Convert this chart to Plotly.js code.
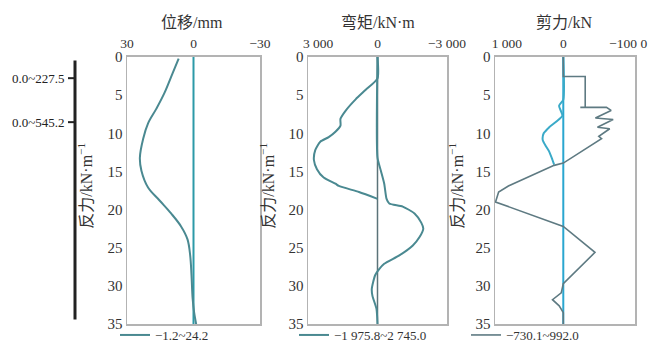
<!DOCTYPE html>
<html>
<head>
<meta charset="utf-8">
<script src="https://cdn.plot.ly/plotly-3.0.1.min.js"></script>
<style>html,body{margin:0;padding:0;background:#fff;}#chart{width:654px;height:350px;}</style>
</head>
<body>
<div id="chart"></div>
<script>
// ---- data ----
const depthTicks = [0, 5, 10, 15, 20, 25, 30, 35];

// Panel 1: displacement (mm)
const dispDepth = [0.2, 2.1, 4.7, 6.8, 8.7, 10.7, 13.2, 14.9, 17.1, 18.8, 20.5, 22.2, 23.9, 26.0, 28.6, 31.6, 33.5, 35];
const dispVal   = [6.7, 9.4, 13.1, 16.8, 20.5, 22.7, 24.2, 23.5, 20.5, 15.3, 10.1, 5.6, 2.7, 1.5, 0.9, 0.4, -0.3, -1.2];
const dispTickVals = [30, 0, -30];
const dispTickText = ['30', '0', '−30'];

// Panel 2: bending moment (kN·m)
const momDepthA = [0, 2.8, 4.3, 5.55, 7.05, 8.1, 9.0, 9.8, 10.5, 11.1, 12.2, 13.5, 14.7, 15.8, 16.6, 16.9, 17.7, 18.6];
const momValA   = [0, 0, 508, 944, 1380, 1598, 1598, 1815, 2106, 2469, 2687, 2745, 2614, 2324, 1815, 1670, 799, 0];
const momDepthB = [0, 13.2, 14.9, 16.6, 18.6, 19.2, 19.6, 20.5, 21.7, 22.5, 23.6, 24.7, 26.0, 27.1, 27.8, 28.6, 30.4, 31.3, 33.0, 35];
const momValB   = [0, 0, -145, -290, -392, -508, -1089, -1598, -1888, -1976, -1815, -1525, -944, -290, -73, 102, 247, 218, 44, 0];
const momTickVals = [3000, 0, -3000];
const momTickText = ['3 000', '0', '−3 000'];

// Panel 3: shear force (kN)
const shearDepthA = [0, 5.6, 6.4, 7.7, 9.2, 10.0, 10.9, 11.7, 12.4, 13.5, 14.1];
const shearValA   = [0, 0, 62, 14, 206, 287, 301, 254, 206, 158, 134];
const shearDepthB = [0, 2.56, 2.56, 6.6, 6.6, 6.6, 7.0, 8.0, 8.2, 9.2, 9.4, 10.4, 10.7, 13.9, 14.2, 16.9, 17.7, 19.0, 22.2, 25.6, 29.7, 30.9, 31.8, 32.6, 33.5, 35];
const shearValB   = [0, 0, -321, -321, -249, -632, -700, -470, -730, -500, -680, -520, -560, 0, 134, 804, 947, 992, 0, -464, 0, 30, 158, 60, 0, 0];
const shearTickVals = [1000, 0, -1000];
const shearTickText = ['1 000', '0', '−100 0'];

const zeroDepth = [0, 35];
const zeroVal = [0, 0];

const panelTitles = ['位移/mm', '弯矩/kN·m', '剪力/kN'];
const legendNames = ['−1.2~24.2', '−1 975.8~2 745.0', '−730.1~992.0'];
const yTitle = '反力/kN·m<sup>−1</sup>';
const barLabels = ['0.0~227.5', '0.0~545.2'];

// ---- styling ----
const W = 654, H = 350;
const px = v => v / W;
const py = v => 1 - v / H;
const FONT = '"Liberation Serif", "Noto Sans CJK SC", serif';
const curveCol = '#4a8991';
const NB = n => '\u00a0'.repeat(n);
// in the reference the edge labels sit inside the frame: pad with non-breaking spaces
const momText = [NB(6) + momTickText[0], momTickText[1], momTickText[2]];
const shearText = [NB(7) + shearTickText[0], shearTickText[1], shearTickText[2] + NB(2)];

const traces = [
  {x: zeroVal, y: zeroDepth, xaxis: 'x', yaxis: 'y', mode: 'lines', line: {color: '#2c9aa8', width: 2}, showlegend: false},
  {x: dispVal, y: dispDepth, xaxis: 'x', yaxis: 'y', mode: 'lines', line: {color: curveCol, width: 2, shape: 'spline'}, name: legendNames[0], legend: 'legend'},

  {x: zeroVal, y: zeroDepth, xaxis: 'x2', yaxis: 'y2', mode: 'lines', line: {color: '#5b7379', width: 1.5}, showlegend: false},
  {x: momValA, y: momDepthA, xaxis: 'x2', yaxis: 'y2', mode: 'lines', line: {color: curveCol, width: 2, shape: 'spline', smoothing: 0.6}, name: legendNames[1], legend: 'legend2'},
  {x: momValB, y: momDepthB, xaxis: 'x2', yaxis: 'y2', mode: 'lines', line: {color: curveCol, width: 2, shape: 'spline', smoothing: 0.6}, showlegend: false},

  {x: zeroVal, y: zeroDepth, xaxis: 'x3', yaxis: 'y3', mode: 'lines', line: {color: '#2aa6d0', width: 2}, showlegend: false},
  {x: shearValA, y: shearDepthA, xaxis: 'x3', yaxis: 'y3', mode: 'lines', line: {color: '#3aaac8', width: 2, shape: 'spline', smoothing: 0.6}, showlegend: false},
  {x: shearValB, y: shearDepthB, xaxis: 'x3', yaxis: 'y3', mode: 'lines', line: {color: '#5e7a82', width: 1.6}, name: legendNames[2], legend: 'legend3'}
];

function xax(domain, range, tv, tt) {
  return {domain: domain, range: range, side: 'top', tickvals: tv, ticktext: tt, ticks: '',
    showgrid: false, zeroline: false, showline: true, mirror: true, linecolor: '#b3b3b3', linewidth: 1.5,
    tickfont: {family: FONT, size: 13.5, color: '#333'}, ticklabelstandoff: 2, ticklabeloverflow: 'allow',
    fixedrange: true};
}
function yax(anchor) {
  return {domain: [0.0523, 0.8334], range: [35, 0], tickvals: depthTicks, ticks: '', anchor: anchor,
    showgrid: false, zeroline: false, showline: true, mirror: true, linecolor: '#b3b3b3', linewidth: 1.5,
    tickfont: {family: FONT, size: 15, color: '#333'}, fixedrange: true};
}
function leg(xpix) {
  return {x: px(xpix), y: py(343), xanchor: 'left', yanchor: 'middle', bgcolor: 'rgba(0,0,0,0)',
    font: {family: FONT, size: 13, color: '#333'}, itemwidth: 30, tracegroupgap: 0};
}

const annotations = [];
[[192, panelTitles[0]], [378, panelTitles[1]], [564, panelTitles[2]]].forEach(([x, t]) => {
  annotations.push({text: t, xref: 'paper', yref: 'paper', x: px(x), y: py(23), xanchor: 'center', yanchor: 'middle',
    showarrow: false, font: {family: FONT, size: 16, color: '#333'}});
});
[85, 267, 456].forEach(x => {
  annotations.push({text: yTitle, xref: 'paper', yref: 'paper', x: px(x), y: py(190), xanchor: 'center', yanchor: 'middle',
    textangle: -90, showarrow: false, font: {family: FONT, size: 16, color: '#333'}});
});
[[80, barLabels[0]], [125, barLabels[1]]].forEach(([y, t]) => {
  annotations.push({text: t, xref: 'paper', yref: 'paper', x: px(67), y: py(y), xanchor: 'right', yanchor: 'middle',
    showarrow: false, font: {family: FONT, size: 13, color: '#222'}});
});

const shapes = [
  {type: 'line', xref: 'paper', yref: 'paper', x0: px(75), x1: px(75), y0: py(62), y1: py(327), line: {color: '#222', width: 3}},
  {type: 'line', xref: 'paper', yref: 'paper', x0: px(68), x1: px(75), y0: py(80), y1: py(80), line: {color: '#222', width: 2}},
  {type: 'line', xref: 'paper', yref: 'paper', x0: px(68), x1: px(75), y0: py(125), y1: py(125), line: {color: '#222', width: 2}}
];

const layout = {
  width: W, height: H, margin: {l: 0, r: 0, t: 0, b: 0},
  paper_bgcolor: '#fff', plot_bgcolor: '#fff',
  xaxis: xax([px(127), px(260)], [30, -30], dispTickVals, dispTickText),
  yaxis: yax('x'),
  xaxis2: xax([px(308), px(447)], [3000, -3000], momTickVals, momText),
  yaxis2: yax('x2'),
  xaxis3: xax([px(495), px(635)], [1000, -1050], shearTickVals, shearText),
  yaxis3: yax('x3'),
  legend: leg(115), legend2: leg(294), legend3: leg(466),
  annotations: annotations, shapes: shapes
};
layout.xaxis.anchor = 'y'; layout.xaxis2.anchor = 'y2'; layout.xaxis3.anchor = 'y3';

Plotly.newPlot('chart', traces, layout, {displayModeBar: false, staticPlot: true});
</script>
</body>
</html>
